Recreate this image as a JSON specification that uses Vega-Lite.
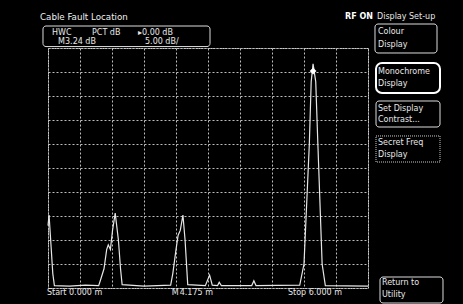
{
  "$schema": "https://vega.github.io/schema/vega-lite/v6.json",
  "width": 320,
  "height": 240,
  "autosize": "none",
  "padding": {"left": 48, "top": 48, "right": 95, "bottom": 16},
  "background": "black",
  "config": {
    "view": {"stroke": "#d0d0d0", "strokeWidth": 1, "strokeDash": [2, 1]},
    "font": "DejaVu Sans"
  },
  "datasets": {
    "trace": [
      {"m": 0.0, "db": -37}, {"m": 0.02, "db": -34.8}, {"m": 0.05, "db": -40}, {"m": 0.09, "db": -47},
      {"m": 0.12, "db": -49.5}, {"m": 0.4, "db": -49.6}, {"m": 0.7, "db": -49.4}, {"m": 0.95, "db": -49.5},
      {"m": 0.98, "db": -48.5}, {"m": 1.05, "db": -46}, {"m": 1.1, "db": -42}, {"m": 1.13, "db": -41},
      {"m": 1.17, "db": -42}, {"m": 1.21, "db": -38}, {"m": 1.26, "db": -34.4}, {"m": 1.32, "db": -40},
      {"m": 1.36, "db": -46}, {"m": 1.39, "db": -49.3}, {"m": 1.8, "db": -49.6}, {"m": 2.3, "db": -49.4},
      {"m": 2.34, "db": -47}, {"m": 2.4, "db": -42}, {"m": 2.44, "db": -39}, {"m": 2.48, "db": -38},
      {"m": 2.53, "db": -34.8}, {"m": 2.57, "db": -40}, {"m": 2.62, "db": -49.3}, {"m": 2.95, "db": -49.5},
      {"m": 3.03, "db": -47.3}, {"m": 3.08, "db": -49.4}, {"m": 3.18, "db": -49.5}, {"m": 3.21, "db": -48.8},
      {"m": 3.25, "db": -49.5}, {"m": 3.82, "db": -49.5}, {"m": 3.86, "db": -48.5}, {"m": 3.9, "db": -49.5},
      {"m": 4.72, "db": -49.4}, {"m": 4.8, "db": -45}, {"m": 4.9, "db": -20}, {"m": 4.935, "db": -7},
      {"m": 4.97, "db": -3.3}, {"m": 5.02, "db": -7}, {"m": 5.06, "db": -20}, {"m": 5.14, "db": -45},
      {"m": 5.2, "db": -49.5}, {"m": 6.0, "db": -49.6}
    ],
    "marker": [{"m": 4.97, "db": -4.8}],
    "boxes": [
      {"name": "info", "x": -0.094, "x2": 3.0375, "y": 4.583, "y2": 0.3},
      {"name": "Colour Display", "x": 6.131, "x2": 7.294, "y": 5.0, "y2": -1.04},
      {"name": "Set Display Contrast", "x": 6.15, "x2": 7.35, "y": -11.04, "y2": -16.46},
      {"name": "Return to Utility", "x": 6.225, "x2": 7.406, "y": -47.71, "y2": -53.125}
    ],
    "selected": [{"name": "Monochrome Display", "x": 6.15, "x2": 7.35, "y": -3.125, "y2": -9.375}],
    "dotted": [{"name": "Secret Freq Display", "x": 6.15, "x2": 7.35, "y": -18.33, "y2": -23.75}],
    "labels": [
      {"text": "Display Set-up", "x": 6.169, "y": 6.458},
      {"text": "HWC", "x": 0.075, "y": 3.125},
      {"text": "PCT dB", "x": 0.825, "y": 3.125},
      {"text": "▸0.00 dB", "x": 1.6875, "y": 3.125},
      {"text": "M", "x": 0.1875, "y": 1.25},
      {"text": "3.24 dB", "x": 0.319, "y": 1.25},
      {"text": "5.00 dB/", "x": 1.819, "y": 1.25},
      {"text": "Colour", "x": 6.1875, "y": 3.33},
      {"text": "Display", "x": 6.1875, "y": 0.625},
      {"text": "Monochrome", "x": 6.1875, "y": -5.0},
      {"text": "Display", "x": 6.1875, "y": -7.5},
      {"text": "Set Display", "x": 6.1875, "y": -12.71},
      {"text": "Contrast...", "x": 6.1875, "y": -15.0},
      {"text": "Secret Freq", "x": 6.1875, "y": -19.79},
      {"text": "Display", "x": 6.1875, "y": -22.29},
      {"text": "Return to", "x": 6.2625, "y": -48.96},
      {"text": "Utility", "x": 6.2625, "y": -51.46},
      {"text": "Start  0.000 m", "x": -0.02, "y": -51.04},
      {"text": "M", "x": 2.32, "y": -51.04},
      {"text": "4.175 m", "x": 2.47, "y": -51.04},
      {"text": "Stop  6.000 m", "x": 4.5, "y": -51.04}
    ],
    "title": [{"text": "Cable Fault Location", "x": -0.15, "y": 6.458}],
    "status": [{"text": "RF ON", "x": 5.569, "y": 6.458}]
  },
  "layer": [
    {
      "data": {"name": "trace"},
      "mark": {"type": "line", "color": "#e6e6e6", "strokeWidth": 1.2, "interpolate": "linear"},
      "encoding": {
        "x": {
          "field": "m", "type": "quantitative",
          "scale": {"domain": [0, 6], "nice": false, "zero": false},
          "axis": {
            "values": [0, 0.6, 1.2, 1.8, 2.4, 3.0, 3.6, 4.2, 4.8, 5.4, 6.0],
            "tickCount": 20,
            "labels": false, "ticks": false, "domain": false, "title": null,
            "grid": true, "gridColor": "#bdbdbd", "gridDash": [2, 2], "gridWidth": 1, "gridOpacity": 1
          }
        },
        "y": {
          "field": "db", "type": "quantitative",
          "scale": {"domain": [-50, 0], "nice": false, "zero": false},
          "axis": {
            "values": [0, -5, -10, -15, -20, -25, -30, -35, -40, -45, -50],
            "tickCount": 20,
            "labels": false, "ticks": false, "domain": false, "title": null,
            "grid": true, "gridColor": "#bdbdbd", "gridDash": [2, 2], "gridWidth": 1, "gridOpacity": 1
          }
        }
      }
    },
    {
      "data": {"name": "marker"},
      "mark": {"type": "point", "shape": "diamond", "filled": true, "color": "white", "size": 45, "opacity": 1},
      "encoding": {
        "x": {"field": "m", "type": "quantitative"},
        "y": {"field": "db", "type": "quantitative"}
      }
    },
    {
      "data": {"name": "boxes"},
      "mark": {"type": "rect", "fill": "black", "stroke": "#dddddd", "strokeWidth": 1, "cornerRadius": 3},
      "encoding": {
        "x": {"field": "x", "type": "quantitative"},
        "x2": {"field": "x2"},
        "y": {"field": "y", "type": "quantitative"},
        "y2": {"field": "y2"}
      }
    },
    {
      "data": {"name": "selected"},
      "mark": {"type": "rect", "fill": "black", "stroke": "white", "strokeWidth": 2, "cornerRadius": 6},
      "encoding": {
        "x": {"field": "x", "type": "quantitative"},
        "x2": {"field": "x2"},
        "y": {"field": "y", "type": "quantitative"},
        "y2": {"field": "y2"}
      }
    },
    {
      "data": {"name": "dotted"},
      "mark": {"type": "rect", "fill": "black", "stroke": "#cccccc", "strokeWidth": 1, "strokeDash": [1, 1]},
      "encoding": {
        "x": {"field": "x", "type": "quantitative"},
        "x2": {"field": "x2"},
        "y": {"field": "y", "type": "quantitative"},
        "y2": {"field": "y2"}
      }
    },
    {
      "data": {"name": "labels"},
      "mark": {"type": "text", "align": "left", "baseline": "middle", "fontSize": 8, "color": "#e8e8e8"},
      "encoding": {
        "x": {"field": "x", "type": "quantitative"},
        "y": {"field": "y", "type": "quantitative"},
        "text": {"field": "text"}
      }
    },
    {
      "data": {"name": "title"},
      "mark": {"type": "text", "align": "left", "baseline": "middle", "fontSize": 8.7, "color": "#f0f0f0"},
      "encoding": {
        "x": {"field": "x", "type": "quantitative"},
        "y": {"field": "y", "type": "quantitative"},
        "text": {"field": "text"}
      }
    },
    {
      "data": {"name": "status"},
      "mark": {"type": "text", "align": "left", "baseline": "middle", "fontSize": 8, "fontWeight": "bold", "color": "white"},
      "encoding": {
        "x": {"field": "x", "type": "quantitative"},
        "y": {"field": "y", "type": "quantitative"},
        "text": {"field": "text"}
      }
    }
  ]
}
